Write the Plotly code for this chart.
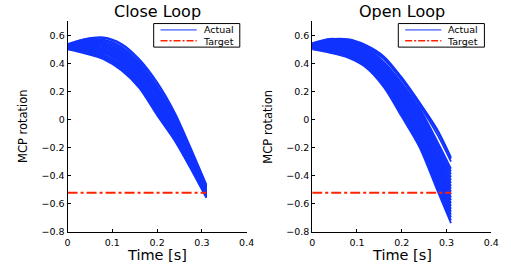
import plotly.graph_objects as go

# ---------------- data ----------------
time_s = [0.0, 0.04, 0.08, 0.12, 0.16, 0.20, 0.24, 0.28, 0.31]

close_loop_actual = [
    [0.538, 0.575, 0.585, 0.540, 0.430, 0.265, 0.045, -0.240, -0.465],
    [0.532, 0.572, 0.580, 0.535, 0.422, 0.255, 0.035, -0.250, -0.470],
    [0.535, 0.565, 0.570, 0.520, 0.405, 0.235, 0.020, -0.260, -0.475],
    [0.528, 0.559, 0.562, 0.510, 0.394, 0.223, 0.010, -0.267, -0.480],
    [0.533, 0.554, 0.554, 0.500, 0.384, 0.211, -0.001, -0.274, -0.485],
    [0.525, 0.548, 0.545, 0.490, 0.373, 0.199, -0.011, -0.281, -0.490],
    [0.530, 0.543, 0.537, 0.480, 0.363, 0.187, -0.021, -0.288, -0.495],
    [0.522, 0.537, 0.529, 0.470, 0.352, 0.175, -0.031, -0.295, -0.500],
    [0.527, 0.531, 0.521, 0.460, 0.341, 0.163, -0.042, -0.303, -0.504],
    [0.519, 0.526, 0.513, 0.450, 0.331, 0.150, -0.052, -0.310, -0.509],
    [0.524, 0.520, 0.504, 0.440, 0.320, 0.138, -0.062, -0.317, -0.514],
    [0.516, 0.515, 0.496, 0.430, 0.310, 0.126, -0.073, -0.324, -0.519],
    [0.521, 0.509, 0.488, 0.420, 0.299, 0.114, -0.083, -0.331, -0.524],
    [0.513, 0.503, 0.480, 0.410, 0.288, 0.102, -0.093, -0.338, -0.529],
    [0.518, 0.498, 0.472, 0.400, 0.278, 0.090, -0.104, -0.345, -0.534],
    [0.510, 0.492, 0.463, 0.390, 0.267, 0.078, -0.114, -0.352, -0.539],
    [0.514, 0.487, 0.455, 0.380, 0.257, 0.066, -0.124, -0.359, -0.544],
    [0.506, 0.481, 0.447, 0.370, 0.246, 0.054, -0.135, -0.366, -0.549],
    [0.509, 0.475, 0.438, 0.360, 0.236, 0.042, -0.145, -0.373, -0.554],
    [0.500, 0.470, 0.430, 0.350, 0.225, 0.030, -0.155, -0.380, -0.559],
]

open_loop_actual = [
    [0.540, 0.572, 0.572, 0.530, 0.450, 0.300, 0.120, -0.075, -0.270],
    [0.535, 0.568, 0.568, 0.520, 0.440, 0.290, 0.110, -0.085, -0.280],
    [0.545, 0.575, 0.560, 0.515, 0.430, 0.280, 0.100, -0.110, -0.300],
    [0.540, 0.570, 0.565, 0.510, 0.410, 0.260, 0.080, -0.160, -0.350],
    [0.532, 0.562, 0.556, 0.503, 0.400, 0.248, 0.066, -0.178, -0.371],
    [0.536, 0.561, 0.553, 0.495, 0.392, 0.235, 0.050, -0.197, -0.390],
    [0.528, 0.553, 0.545, 0.488, 0.380, 0.222, 0.036, -0.215, -0.412],
    [0.531, 0.550, 0.538, 0.480, 0.372, 0.210, 0.021, -0.234, -0.432],
    [0.525, 0.545, 0.532, 0.473, 0.362, 0.197, 0.006, -0.252, -0.452],
    [0.534, 0.541, 0.525, 0.466, 0.353, 0.184, -0.008, -0.270, -0.473],
    [0.522, 0.536, 0.518, 0.458, 0.343, 0.172, -0.023, -0.289, -0.494],
    [0.529, 0.530, 0.512, 0.451, 0.334, 0.159, -0.038, -0.307, -0.514],
    [0.519, 0.525, 0.505, 0.443, 0.325, 0.147, -0.052, -0.325, -0.535],
    [0.526, 0.520, 0.499, 0.436, 0.315, 0.134, -0.067, -0.344, -0.555],
    [0.515, 0.516, 0.492, 0.429, 0.306, 0.121, -0.082, -0.362, -0.575],
    [0.521, 0.510, 0.486, 0.421, 0.296, 0.109, -0.096, -0.380, -0.596],
    [0.512, 0.505, 0.479, 0.414, 0.287, 0.096, -0.111, -0.399, -0.617],
    [0.517, 0.500, 0.472, 0.406, 0.277, 0.083, -0.126, -0.418, -0.637],
    [0.508, 0.495, 0.466, 0.399, 0.268, 0.071, -0.140, -0.436, -0.657],
    [0.513, 0.490, 0.459, 0.392, 0.258, 0.058, -0.155, -0.454, -0.678],
    [0.505, 0.485, 0.453, 0.384, 0.249, 0.045, -0.170, -0.473, -0.699],
    [0.509, 0.480, 0.446, 0.377, 0.240, 0.033, -0.185, -0.491, -0.719],
    [0.500, 0.475, 0.440, 0.370, 0.230, 0.020, -0.200, -0.510, -0.740],
]

target_time = [0.0, 0.31]
target_value = [-0.5236, -0.5236]

panel_titles = ["Close Loop", "Open Loop"]
legend_labels = ["Actual", "Target"]
x_label = "Time [s]"
y_label = "MCP rotation"
x_tickvals = [0.0, 0.1, 0.2, 0.3, 0.4]
x_ticktext = ["0", "0.1", "0.2", "0.3", "0.4"]
y_tickvals = [-0.8, -0.6, -0.4, -0.2, 0.0, 0.2, 0.4, 0.6]
y_ticktext = ["\u22120.8", "\u22120.6", "\u22120.4", "\u22120.2", "0", "0.2", "0.4", "0.6"]

# ---------------- figure ----------------
W, H = 511, 270
BLUE = "#1133ff"
RED = "#ff2200"
FONT = "DejaVu Sans"
DASHDOT = "10px,3px,3px,3px"

fig = go.Figure()

panels = [
    (close_loop_actual, "x", "y"),
    (open_loop_actual, "x2", "y2"),
]
for curves, xa, ya in panels:
    for i, vals in enumerate(curves):
        fig.add_trace(go.Scatter(
            x=time_s, y=vals, xaxis=xa, yaxis=ya, mode="lines",
            line=dict(color=BLUE, width=1.8, shape="spline", smoothing=0.8),
            name=legend_labels[0], showlegend=False, hoverinfo="skip",
        ))
    fig.add_trace(go.Scatter(
        x=target_time, y=target_value, xaxis=xa, yaxis=ya, mode="lines",
        line=dict(color=RED, width=2, dash=DASHDOT),
        name=legend_labels[1], showlegend=False, hoverinfo="skip",
    ))

xdomains = [[66 / W, 249 / W], [316 / W, 499 / W]]
ydomain = [1 - 236 / H, 1 - 21.7 / H]

axis_common = dict(
    showline=True, linecolor="black", linewidth=1, ticks="inside",
    ticklen=3, tickcolor="black", showgrid=False, zeroline=False,
    mirror=False, tickfont=dict(family=FONT, size=9.5, color="black"),
)
for k, dom in enumerate(xdomains):
    sfx = "" if k == 0 else str(k + 1)
    fig.update_layout(**{
        "xaxis" + sfx: dict(domain=dom, range=[0, 0.4], tickmode="array",
                            tickvals=x_tickvals, ticktext=x_ticktext,
                            ticklabelstandoff=2,
                            anchor="y" + sfx, **axis_common),
        "yaxis" + sfx: dict(domain=ydomain, range=[-0.8, 0.7], tickmode="array",
                            tickvals=y_tickvals, ticktext=y_ticktext,
                            anchor="x" + sfx, **axis_common),
    })

def px_x(p):
    return p / W

def px_y(p):
    return 1 - p / H

annotations = []
shapes = []
for k, dom in enumerate(xdomains):
    cx = (dom[0] + dom[1]) / 2
    off = 250 * k
    annotations.append(dict(text=panel_titles[k], x=cx, y=px_y(11.5), xref="paper", yref="paper",
                            xanchor="center", yanchor="middle", showarrow=False,
                            font=dict(family=FONT, size=16, color="black")))
    annotations.append(dict(text=x_label, x=cx, y=px_y(249.5), xref="paper", yref="paper",
                            xanchor="center", yanchor="top", showarrow=False,
                            font=dict(family=FONT, size=14.5, color="black")))
    annotations.append(dict(text=y_label, x=(dom[0] * W - 45) / W, y=(ydomain[0] + ydomain[1]) / 2,
                            xref="paper", yref="paper", textangle=-90,
                            xanchor="center", yanchor="middle", showarrow=False,
                            font=dict(family=FONT, size=11.5, color="black")))
    # legend box
    shapes.append(dict(type="rect", xref="paper", yref="paper",
                       x0=px_x(154 + off), x1=px_x(242 + off), y0=px_y(48), y1=px_y(24),
                       line=dict(color="black", width=1), fillcolor="white", layer="above"))
    shapes.append(dict(type="line", xref="paper", yref="paper",
                       x0=px_x(161 + off), x1=px_x(198 + off), y0=px_y(30.5), y1=px_y(30.5),
                       line=dict(color=BLUE, width=1), layer="above"))
    shapes.append(dict(type="line", xref="paper", yref="paper",
                       x0=px_x(161 + off), x1=px_x(198 + off), y0=px_y(41.5), y1=px_y(41.5),
                       line=dict(color=RED, width=1.5, dash="7px,2px,2px,2px"), layer="above"))
    annotations.append(dict(text=legend_labels[0], x=px_x(238 + off), y=px_y(30.5), xref="paper", yref="paper",
                            xanchor="right", yanchor="middle", showarrow=False,
                            font=dict(family=FONT, size=9.5, color="black")))
    annotations.append(dict(text=legend_labels[1], x=px_x(238 + off), y=px_y(42), xref="paper", yref="paper",
                            xanchor="right", yanchor="middle", showarrow=False,
                            font=dict(family=FONT, size=9.5, color="black")))

fig.update_layout(
    width=W, height=H, autosize=False,
    margin=dict(l=0, r=0, t=0, b=0),
    paper_bgcolor="white", plot_bgcolor="white",
    annotations=annotations, shapes=shapes, showlegend=False,
)

fig.write_html("out.html", config={"displayModeBar": False},
               post_script="document.body.style.margin='0px';")
